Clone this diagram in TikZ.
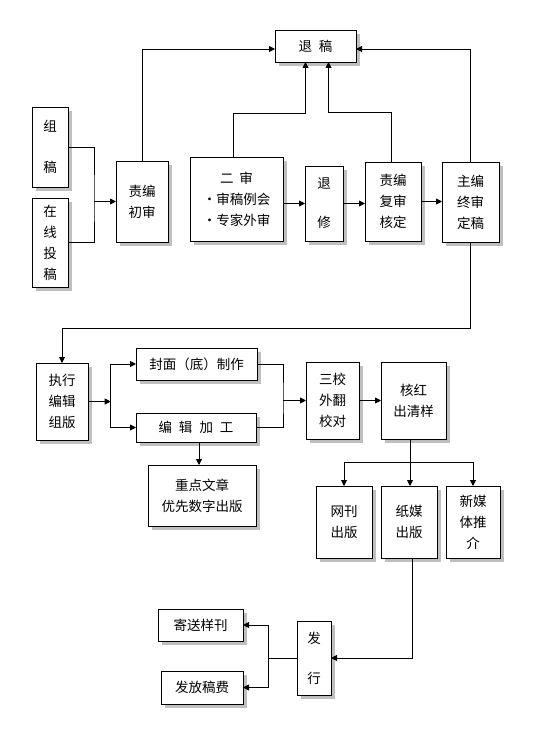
\documentclass[tikz,border=0pt]{standalone}
\usepackage{fontspec}
\setmainfont{Noto Sans CJK SC}
\usetikzlibrary{arrows.meta,calc}
\tikzset{
  box/.style={draw=black, line width=0.9pt, fill=white, inner sep=0pt, outer sep=0pt, align=center,
    font=\fontsize{13.5}{21}\selectfont},
  shadowc/.style={fill=black!25},
  conn/.style={draw=black, line width=0.9pt},
  arr/.style={conn, -{Triangle[length=6pt,width=6pt]}},
}
\newcommand{\bx}[6]{%
  \fill[shadowc] (#2+4,#3+4) rectangle (#4+4,#5+4);
  \node[box, minimum width={(#4-#2)*1pt}, minimum height={(#5-#3)*1pt}] (#1) at ({(#2+#4)/2},{(#3+#5)/2}) {#6};}
\begin{document}
\begin{tikzpicture}[x=1pt,y=-1pt]
\useasboundingbox (0,0) rectangle (554,743);
\fill[white] (0,0) rectangle (554,743);
% boxes
\bx{zg}{32}{107}{68}{187}{组\\[20pt]稿}
\bx{zt}{32}{198}{68}{287}{在\\线\\投\\稿}
\bx{cs}{116}{161}{168}{242}{责编\\初审}
\bx{es}{190}{157}{283}{241}{二\hspace{6pt}审\\·审稿例会\\·专家外审}
\bx{tg}{275}{30}{356}{62}{退\hspace{7pt}稿}
\bx{tx}{305}{166}{343}{241}{退\\[18pt]修}
\bx{fs}{365}{162}{421}{241}{责编\\复审\\核定}
\bx{zb}{442}{162}{499}{242}{主编\\终审\\定稿}
\bx{zj}{36}{363}{88}{440}{执行\\编辑\\组版}
\bx{fm}{136}{348}{257}{380}{封面（底）制作}
\bx{bj}{136}{413}{256}{442}{编\hspace{7pt}辑\hspace{7pt}加\hspace{7pt}工}
\bx{zd}{148}{465}{256}{526}{重点文章\\优先数字出版}
\bx{sj}{306}{362}{359}{439}{三校\\外翻\\校对}
\bx{hh}{381}{362}{446}{439}{核红\\出清样}
\bx{wk}{316}{486}{372}{558}{网刊\\出版}
\bx{zm}{381}{486}{437}{558}{纸媒\\出版}
\bx{xm}{446}{486}{500}{558}{新媒\\体推\\介}
\bx{fx}{297}{621}{331}{695}{发\\[19pt]行}
\bx{js}{158}{609}{243}{641}{寄送样刊}
\bx{ff}{161}{671}{243}{704}{发放稿费}
% junction coordinates
\coordinate (jA) at (94,201.5);
\coordinate (jB) at (110.7,401.5);
\coordinate (jF) at (283,400.5);
\coordinate (jC) at (410,462);
\coordinate (jD) at (268,658);
\coordinate (kA) at (470,328);
% connectors
\draw[conn] (zg.east) -| (jA) |- (zt.east);
\draw[arr] (jA) -- (cs.west);
\draw[arr] (cs.north) |- ([yshift=-3pt]tg.west);
\draw[arr] ([xshift=-3pt]es.north) -- ++(0,-44) -| ([xshift=-10pt]tg.south);
\draw[arr] (es.east |- tx.west) -- (tx.west);
\draw[arr] (tx.east) -- (tx.east -| fs.west);
\draw[arr] ([xshift=-2pt]fs.north) -- ++(0,-50) -| ([xshift=13pt]tg.south);
\draw[arr] (fs.east) -- (fs.east -| zb.west);
\draw[arr] (zb.north) |- ([yshift=-3pt]tg.east);
\draw[arr] (zb.south) -- (zb.south |- kA) -| (zj.north);
\draw[arr] (zj.east) -- (jB);
\draw[arr] (jB) |- (fm.west);
\draw[arr] (jB) |- (bj.west);
\draw[conn] (fm.east) -| (jF) |- (bj.east);
\draw[arr] (jF) -- (sj.west);
\draw[arr] (sj.east) -- (sj.east -| hh.west);
\draw[arr] ([xshift=3pt]bj.south) -- ([xshift=3pt]bj.south |- zd.north);
\draw[conn] (hh.south -| jC) -- (jC);
\draw[arr] (jC) -| (wk.north);
\draw[arr] (jC) -| (xm.north);
\draw[arr] (jC) -- (jC |- zm.north);
\draw[arr] ([xshift=3pt]zm.south) |- (fx.east);
\draw[conn] (fx.west) -- (jD);
\draw[arr] (jD) |- (js.east);
\draw[arr] (jD) |- (ff.east);
\end{tikzpicture}
\end{document}
